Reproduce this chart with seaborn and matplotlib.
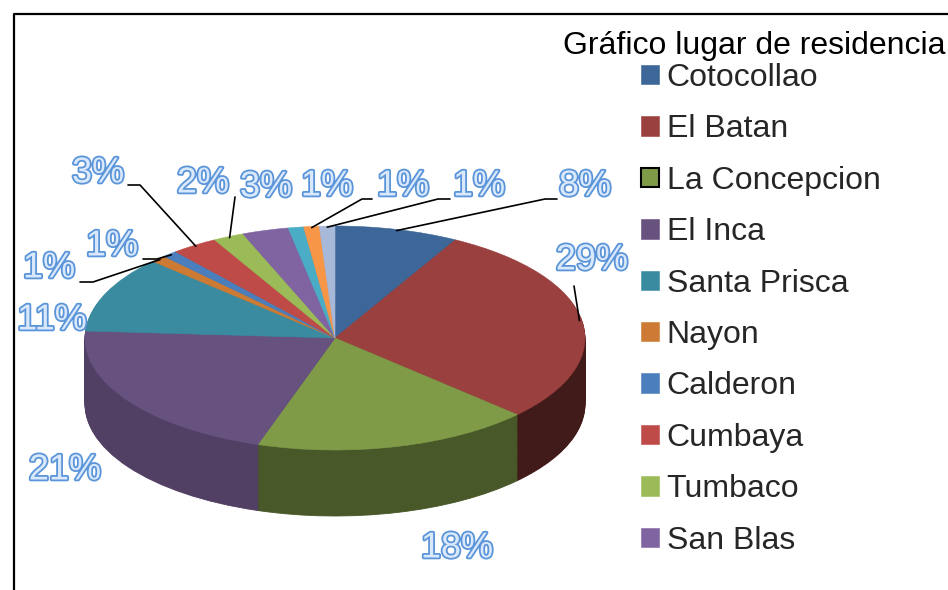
import numpy as np
import matplotlib.pyplot as plt
import matplotlib.colors as mcolors
import matplotlib.patheffects as pe
import seaborn as sns

sns.set_theme(style='white')
plt.rcParams['font.family'] = ['Liberation Sans', 'DejaVu Sans']

# data: 13 slices, only the first ten show up in the (cut off) legend
legend_names = ['Cotocollao', 'El Batan', 'La Concepcion', 'El Inca', 'Santa Prisca',
                'Nayon', 'Calderon', 'Cumbaya', 'Tumbaco', 'San Blas']
shares = [8, 29, 18, 21, 11, 1, 1, 3, 2, 3, 1, 1, 1]
colors = ['#3d6798', '#9a403e', '#7f9b48', '#67517f', '#3a8ba0', '#cc7a34', '#4a7ebc',
          '#be4b48', '#9bbb59', '#8064a2', '#4bacc6', '#f79646', '#a8b8d8']
title = 'Gráfico lugar de residencia'

# label placement in pixels, plus leader line elbows
label_pos = [(585, 186), (592, 260), (457, 548), (65, 470), (52, 320), (49, 268), (112, 246),
             (98, 173), (203, 183), (266, 187), (327, 186), (403, 186), (479, 186)]
leaders = {0: [(557, 199), (545, 199)], 1: [(574, 286)], 5: [(80, 282), (93, 282)],
           6: [(143, 259), (157, 259)], 7: [(128, 185), (140, 185)], 8: [(235, 197)],
           11: [(372, 199), (362, 199)], 12: [(450, 199), (438, 199)]}

W, H = 948, 590
cx, cy, rx, ry, depth = 335, 338, 250, 112, 66

fig = plt.figure(figsize=(W / 100, H / 100), dpi=100)

# pie axes: a unit circle squashed into an ellipse
pax = fig.add_axes([(cx - rx) / W, (H - cy - ry - depth) / H, 2 * rx / W, (2 * ry + depth) / H])
dz = depth / ry

# mid angles (clockwise from top) for shading and leaders
cum = np.cumsum(shares) - np.array(shares) / 2
mid = np.deg2rad(cum / sum(shares) * 360)

side_cols = []
for c, a in zip(colors, mid):
    f = 0.62 - 0.2 * np.sin(a)
    r, g, b = mcolors.to_rgb(c)
    side_cols.append((r * f, g * f, b * f))

# stacked layers make the side wall
for k in np.linspace(dz, 0.01, 70):
    ws = pax.pie(shares, colors=side_cols, startangle=90, counterclock=False,
                 center=(0, -k), radius=1)[0]
    for w in ws:
        w.set_edgecolor(w.get_facecolor())
        w.set_linewidth(0.6)

wedges = pax.pie(shares, colors=colors, startangle=90, counterclock=False, radius=1)[0]
for w in wedges:
    w.set_edgecolor(w.get_facecolor())
    w.set_linewidth(0.4)
for p in pax.patches:
    p.set_clip_on(False)

pax.set_aspect('auto')
pax.set_xlim(-1, 1)
pax.set_ylim(-1 - dz, 1)
pax.axis('off')

# overlay in pixel coordinates
oax = fig.add_axes([0, 0, 1, 1])
oax.set_xlim(0, W)
oax.set_ylim(H, 0)
oax.axis('off')
oax.patch.set_alpha(0)

oax.plot([14, 14, W + 10], [H + 10, 14, 14], color='black', lw=1.6, clip_on=False)

for i, (val, (lx, ly)) in enumerate(zip(shares, label_pos)):
    oax.text(lx, ly, f'{val}%', ha='center', va='center', fontsize=26, color='#d9e8fa',
             path_effects=[pe.withStroke(linewidth=2.6, foreground='#5b95d9')])
    if i in leaders:
        ex = cx + rx * np.sin(mid[i]) * 0.99
        ey = cy - ry * np.cos(mid[i]) * 0.99
        pts = leaders[i] + [(ex, ey)]
        oax.plot([p[0] for p in pts], [p[1] for p in pts], color='black', lw=1.2)

oax.text(563, 54, title, ha='left', va='baseline', fontsize=23, color='black')

leg = fig.legend(handles=wedges[:10], labels=legend_names, loc='upper left',
                 bbox_to_anchor=(641 / W, 1 - 63 / H), frameon=False, fontsize=23,
                 handlelength=0.55, handleheight=0.55, handletextpad=0.25,
                 labelspacing=0.67, borderpad=0, borderaxespad=0)
leg.legend_handles[2].set_edgecolor('black')
leg.legend_handles[2].set_linewidth(1.5)

fig.savefig('out.png', dpi=100)
